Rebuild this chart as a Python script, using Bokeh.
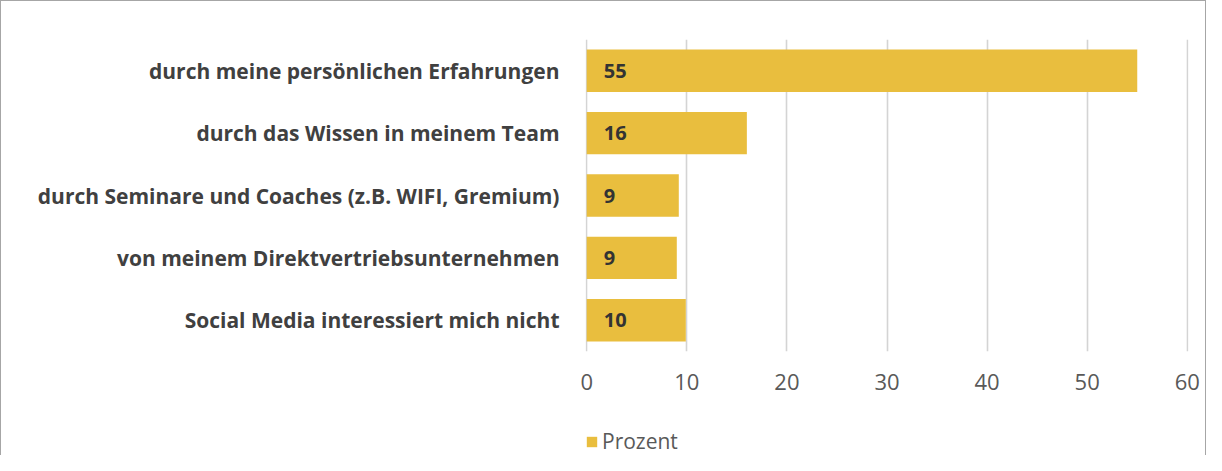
from bokeh.plotting import figure
from bokeh.layouts import column
from bokeh.models import (FactorRange, Range1d, FixedTicker, Legend, LegendItem,
                          ColumnDataSource, InlineStyleSheet)
from bokeh.core.properties import value
from bokeh.embed import file_html
from bokeh.resources import INLINE

categories = [
    "durch meine persönlichen Erfahrungen",
    "durch das Wissen in meinem Team",
    "durch Seminare und Coaches (z.B. WIFI, Gremium)",
    "von meinem Direktvertriebsunternehmen",
    "Social Media interessiert mich nicht",
]
prozent = [55.0, 16.0, 9.2, 9.0, 9.9]
x_ticks = [0, 10, 20, 30, 40, 50, 60]
series_name = "Prozent"

BAR_COLOR = "#E9BE3E"
FONT = "Open Sans"
FRAME = "#a6a6a6"

labels = [f"{v:.0f}" for v in prozent]
src = ColumnDataSource(dict(cat=categories, val=prozent, lab=labels,
                            zero=[0] * len(prozent)))

W = 1206
H_MAIN = 405
H_LEG = 50

p = figure(
    width=W, height=H_MAIN,
    y_range=FactorRange(factors=list(reversed(categories)), range_padding=0),
    x_range=Range1d(-0.12, 60.12),
    output_backend="svg", toolbar_location=None,
    min_border_left=584, min_border_right=19,
    min_border_top=38, min_border_bottom=55,
)
p.stylesheets = [InlineStyleSheet(css=f":host {{ border-top: 1px solid {FRAME}; border-left: 1px solid {FRAME}; border-right: 1px solid {FRAME}; }}")]
p.outline_line_color = None
p.background_fill_color = "white"
p.border_fill_color = "white"

r = p.hbar(y="cat", right="val", left=0, height=0.68, source=src,
           fill_color=BAR_COLOR, line_color=None)

p.text(x="zero", y="cat", text="lab", source=src, x_offset=17,
       text_baseline="middle", text_align="left",
       text_font=value(FONT), text_font_style="bold",
       text_font_size="20px", text_color="#333333")

# x axis
p.xaxis.ticker = FixedTicker(ticks=x_ticks)
p.xaxis.axis_line_color = None
p.xaxis.major_tick_line_color = None
p.xaxis.minor_tick_line_color = None
p.xaxis.major_tick_out = 0
p.xaxis.major_tick_in = 0
p.xaxis.major_label_standoff = 22
p.xaxis.major_label_text_font = FONT
p.xaxis.major_label_text_font_size = "22px"
p.xaxis.major_label_text_color = "#595959"

# y axis
p.yaxis.axis_line_color = None
p.yaxis.major_tick_line_color = None
p.yaxis.minor_tick_line_color = None
p.yaxis.major_tick_out = 0
p.yaxis.major_tick_in = 0
p.yaxis.major_label_standoff = 26
p.yaxis.major_label_text_font = FONT
p.yaxis.major_label_text_font_style = "bold"
p.yaxis.major_label_text_font_size = "21px"
p.yaxis.major_label_text_color = "#404040"

# grid
p.xgrid.ticker = FixedTicker(ticks=x_ticks)
p.xgrid.grid_line_color = "#d4d4d4"
p.xgrid.grid_line_width = 1.6
p.ygrid.grid_line_color = None

# legend strip below the chart (its frame is aligned with the main frame)
pl = figure(
    width=W, height=H_LEG,
    x_range=Range1d(0, 1), y_range=Range1d(0, 1),
    x_axis_location=None, y_axis_location=None,
    output_backend="svg", toolbar_location=None,
    min_border=0,
)
pl.stylesheets = [InlineStyleSheet(css=f":host {{ border-left: 1px solid {FRAME}; border-right: 1px solid {FRAME}; }}")]
pl.outline_line_color = None
pl.grid.visible = False
# zero-area proxy glyph: only provides the legend swatch style
swatch = pl.quad(left="zero", right="zero", top="zero", bottom="zero", source=src,
                 fill_color=BAR_COLOR, line_color=None)
legend = Legend(items=[LegendItem(label=series_name, renderers=[swatch])],
                location=(0, 0), orientation="horizontal",
                border_line_color=None, background_fill_alpha=0,
                margin=0, padding=0, spacing=0,
                glyph_width=13, glyph_height=13, label_height=13,
                label_standoff=4,
                label_text_font=FONT, label_text_font_size="21px",
                label_text_color="#595959")
pl.add_layout(legend, "center")

layout = column(p, pl, spacing=0)
open("out.html", "w").write(file_html(layout, INLINE))
